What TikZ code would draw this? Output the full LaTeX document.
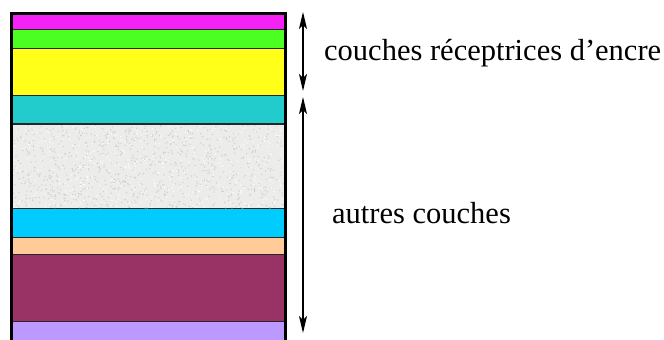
\documentclass[tikz,border=0pt]{standalone}
\usepackage{fontspec}
\setmainfont{Liberation Serif}
\usetikzlibrary{arrows.meta}

\definecolor{cmagenta}{RGB}{245,34,245}
\definecolor{cvert}{RGB}{76,255,34}
\definecolor{cjaune}{RGB}{255,255,26}
\definecolor{cturq}{RGB}{34,204,204}
\definecolor{cgris}{RGB}{236,236,234}
\definecolor{cbleu}{RGB}{0,204,255}
\definecolor{cpeche}{RGB}{255,204,153}
\definecolor{cbordeaux}{RGB}{153,51,102}
\definecolor{clavande}{RGB}{187,153,255}

\newcommand\couchestyle{\fontsize{30.5}{36}\selectfont}
\newcommand\coucheleft{12}
\newcommand\coucheright{285}
\newcommand\couche[3]{
  \fill[#3] (\coucheleft, #1) rectangle (\coucheright, #2) ;
  \draw[sep] (\coucheleft, #2) -- (\coucheright, #2) ;
}

\tikzset{
  sep/.style={line width=1.5pt, draw=black!85},
  cadre/.style={line width=3pt, line cap=rect},
  pointe/.style={Stealth[length=17pt, width=8pt, inset=4pt]},
  fleche/.style={line width=1.3pt, {Stealth[length=17pt, width=8pt, inset=4pt]}-{Stealth[length=17pt, width=8pt, inset=4pt]}},
  legende/.style={anchor=base west, inner sep=0pt, font=\couchestyle}
}

\begin{document}
\begin{tikzpicture}[x=1pt, y=-1pt]
  \useasboundingbox (0, 0) rectangle (664, 340) ;
  \clip (0, 0) rectangle (664, 340) ;

  % les couches, de haut en bas
  \couche{13}{29.5}{cmagenta}
  \couche{29.5}{49}{cvert}
  \couche{49}{96}{cjaune}
  \couche{96}{124}{cturq}
  \couche{124}{209}{cgris}
  \pgfmathsetseed{7}
  \foreach \i in {1,...,900} {
    \pgfmathsetmacro\px{13 + 271 * rnd}
    \pgfmathsetmacro\py{125 + 83 * rnd}
    \fill[black!20] (\px, \py) circle (0.7) ;
  }
  \foreach \i in {1,...,500} {
    \pgfmathsetmacro\px{13 + 271 * rnd}
    \pgfmathsetmacro\py{125 + 83 * rnd}
    \fill[white] (\px, \py) circle (0.7) ;
  }
  \couche{209}{237.5}{cbleu}
  \couche{237.5}{255}{cpeche}
  \couche{255}{322}{cbordeaux}
  \couche{322}{350}{clavande}
  \draw[sep] (\coucheleft, 124) -- (\coucheright, 124) ;

  % cadre
  \draw[cadre] (11.5, 350) -- (11.5, 13) -- (285.5, 13) -- (285.5, 350) ;

  % fleches et legendes
  \coordinate (e1) at (303, 12) ;
  \coordinate (e2) at (303, 91) ;
  \coordinate (a1) at (303, 97) ;
  \coordinate (a2) at (303, 333) ;
  \draw[fleche] (e1) -- (e2) ;
  \draw[fleche] (a1) -- (a2) ;

  \node[legende] (encre) at (324, 60) {couches réceptrices d’encre} ;
  \node[legende] (autres) at (332, 223) {autres couches} ;
\end{tikzpicture}
\end{document}
